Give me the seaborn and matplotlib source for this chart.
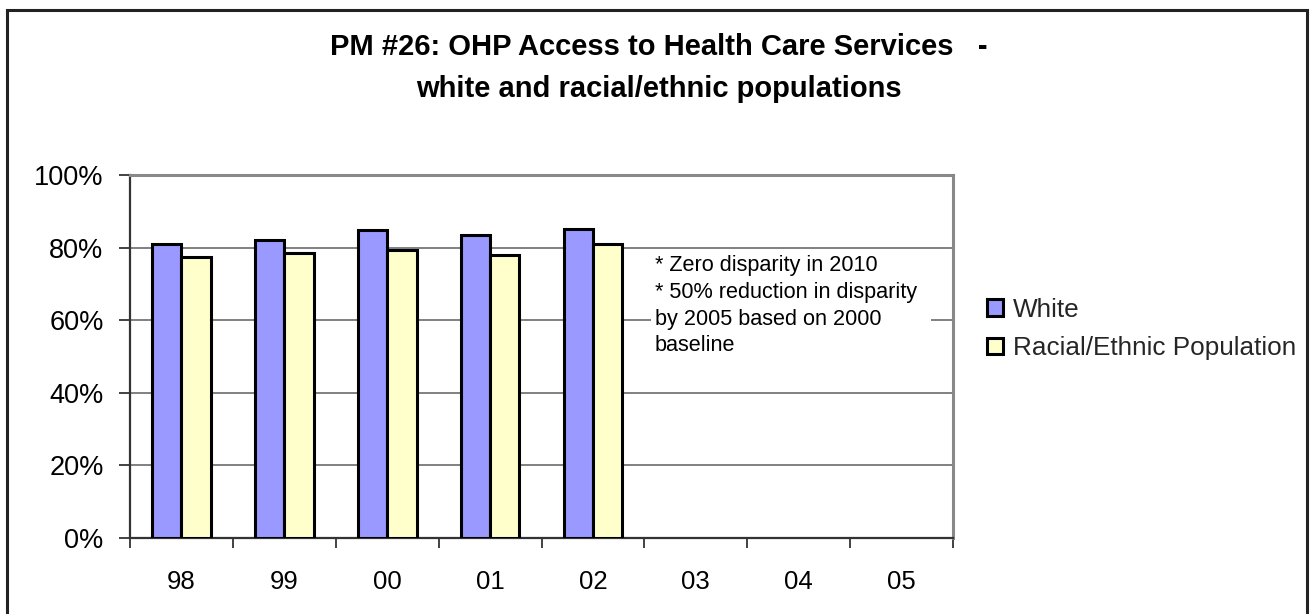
import matplotlib
matplotlib.use("Agg")
import matplotlib.pyplot as plt
from matplotlib.patches import Rectangle
from matplotlib.ticker import FixedLocator, PercentFormatter
import numpy as np
import pandas as pd
import seaborn as sns

# Survey years shown on the axis (03-05 have no results yet)
years = ["98", "99", "00", "01", "02", "03", "04", "05"]
reported_years = ["98", "99", "00", "01", "02"]
groups = ["White", "Racial/Ethnic Population"]
white_pct = [81.0, 82.0, 84.8, 83.4, 85.2]
racial_ethnic_pct = [77.4, 78.4, 79.3, 78.0, 81.0]
y_ticks = [0, 20, 40, 60, 80, 100]

title_text = ("PM #26: OHP Access to Health Care Services   -\n"
              "white and racial/ethnic populations")
note_text = ("* Zero disparity in 2010\n"
             "* 50% reduction in disparity\n"
             "by 2005 based on 2000\n"
             "baseline")

df = pd.DataFrame({
    "year": reported_years * 2,
    "group": [groups[0]] * len(white_pct) + [groups[1]] * len(racial_ethnic_pct),
    "pct": white_pct + racial_ethnic_pct,
})

sns.set_theme(style="white")
plt.rcParams["font.family"] = ["Liberation Sans", "DejaVu Sans"]

W, H = 1315, 614
fig = plt.figure(figsize=(W / 100, H / 100), dpi=100)
fig.patch.set_facecolor("white")

# outer frame around the whole chart
fig.add_artist(Rectangle((7 / W, -0.05), 1300 / W, 1 - 10 / H + 0.05,
                         transform=fig.transFigure, fill=False,
                         edgecolor="#222222", linewidth=2.2))

left, right, top, bottom = 130, 953, 175, 538
ax = fig.add_axes([left / W, 1 - bottom / H, (right - left) / W, (bottom - top) / H])

sns.barplot(data=df, x="year", y="pct", hue="group", order=years,
            hue_order=groups, palette=["#9999FF", "#FFFFCC"],
            width=0.57, edgecolor="black", linewidth=2.2,
            saturation=1, errorbar=None, ax=ax, zorder=3)

ax.set_xlim(-0.5, len(years) - 0.5)
ax.set_ylim(0, 100)
ax.set_xlabel("")
ax.set_ylabel("")

ax.yaxis.set_major_locator(FixedLocator(y_ticks))
ax.yaxis.set_major_formatter(PercentFormatter(decimals=0))
ax.yaxis.grid(True, color="#808080", linewidth=1.4, zorder=0)
ax.set_axisbelow(True)

# category labels centred, tick marks between categories
ax.set_xticks(np.arange(len(years)))
ax.set_xticklabels(years)
ax.set_xticks(np.arange(len(years) + 1) - 0.5, minor=True)
ax.tick_params(axis="x", which="major", length=0, pad=23, labelsize=18.5, colors="black")
ax.tick_params(axis="x", which="minor", length=7, width=1.2, color="#222222", direction="out", bottom=True)
ax.tick_params(axis="y", which="major", length=8, width=1.2, color="#222222",
               direction="out", left=True, pad=11, labelsize=19.5, labelcolor="black")

for side in ["top", "right"]:
    ax.spines[side].set_color("#888888")
    ax.spines[side].set_linewidth(2.2)
for side in ["left", "bottom"]:
    ax.spines[side].set_color("#333333")
    ax.spines[side].set_linewidth(1.6)

# note box with white background over the gridlines
ax.add_patch(Rectangle(((651 - left) / (right - left), (bottom - 366) / (bottom - top)),
                       280 / (right - left), 114 / (bottom - top),
                       transform=ax.transAxes, facecolor="white", edgecolor="none", zorder=4))
ax.text((655 - left) / (right - left), (bottom - 255) / (bottom - top), note_text,
        transform=ax.transAxes, ha="left", va="top", fontsize=15.6,
        linespacing=1.36, color="black", zorder=5)

handles, labels = ax.get_legend_handles_labels()
ax.legend(handles, labels, loc="center left", bbox_to_anchor=(987 / W, 1 - 329 / H),
          bbox_transform=fig.transFigure, frameon=False, fontsize=18.8,
          handlelength=0.6, handleheight=0.6, handletextpad=0.4,
          labelspacing=0.55, borderpad=0, borderaxespad=0)

fig.text(659 / W, 1 - 68 / H, title_text, ha="center", va="center",
         fontsize=21, fontweight="bold", linespacing=1.6, color="black")

fig.savefig("out.png", dpi=100, facecolor="white")
